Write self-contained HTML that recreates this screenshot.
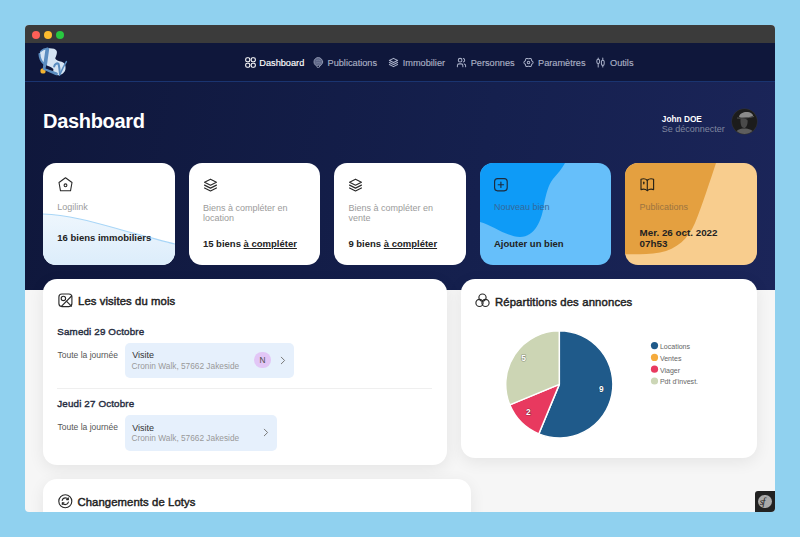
<!DOCTYPE html>
<html><head><meta charset="utf-8">
<style>
*{box-sizing:border-box;margin:0;padding:0}
html,body{width:800px;height:537px;overflow:hidden;background:#90d1ef;font-family:"Liberation Sans",sans-serif}
#win{position:absolute;left:25px;top:25px;width:750px;height:487px;border-radius:4px;overflow:hidden;background:#f6f6f6}
#tb{position:absolute;left:0;top:0;width:750px;height:18px;background:#3b3b3b}
.dot{position:absolute;top:5.5px;width:8px;height:8px;border-radius:50%}
#nav{position:absolute;left:0;top:18px;width:750px;height:39px;background:#0f173b;border-bottom:1px solid #1a3470}
#hero{position:absolute;left:0;top:57px;width:750px;height:207.5px;background:linear-gradient(100deg,#0f173b 0%,#15204e 60%,#1b2559 100%)}
.t{position:absolute;line-height:1;white-space:nowrap}
.ni{font-size:9.2px;color:#aab0c4;top:33.7px;-webkit-text-stroke:0.15px #aab0c4;letter-spacing:0px}
.ico{position:absolute;fill:none;stroke-linecap:round;stroke-linejoin:round}
.card{position:absolute;top:138px;width:131.6px;height:102px;border-radius:13px;background:#fff;overflow:hidden}
.lbl{font-size:9px;color:#9b9b9b;margin-top:0.6px}
.val{font-size:9.5px;font-weight:bold;color:#222}
.val u{text-decoration:underline;text-decoration-thickness:0.8px;text-underline-offset:1.2px}
.panel{position:absolute;background:#fff;border-radius:14px;box-shadow:0 4px 16px rgba(0,0,0,.075);overflow:hidden}
.ptitle{font-size:11.3px;font-weight:normal;color:#222;-webkit-text-stroke:0.45px #222}
.day{font-size:9.8px;font-weight:normal;color:#262c40;-webkit-text-stroke:0.4px #262c40;letter-spacing:0.15px}
.allday{font-size:8.5px;color:#555}
.vbox{position:absolute;background:#e6f0fc;border-radius:5px}
.vt{font-size:9px;color:#333}
.vs{font-size:8.3px;color:#999}
.av{position:absolute;width:16.25px;height:16.25px;border-radius:50%;background:#e2c6f6;color:#4a4a4a;font-size:8.3px;line-height:16.25px;text-align:center}
</style></head><body>
<div id="win">
  <div id="tb">
    <div class="dot" style="left:7px;background:#fe5f57"></div>
    <div class="dot" style="left:19px;background:#febc2e"></div>
    <div class="dot" style="left:31px;background:#28c840"></div>
  </div>
  <div id="nav"></div>
  <div id="hero"></div>

  <!-- logo -->
  <svg class="ico" style="left:11px;top:21px" width="34" height="32" viewBox="0 0 571 537">
    <path d="M55,150 C60,90 120,45 200,40 C270,36 330,45 348,85 C360,120 340,170 322,205 C330,240 380,255 430,265 C480,280 505,320 495,390 C485,440 440,485 380,492 C330,495 300,470 275,425 L170,345 C120,300 70,240 55,150Z" fill="#d5e4f3"/>
    <path d="M58,135 C62,205 85,255 125,290" stroke="#5b8dc0" stroke-width="34" fill="none"/>
    <path d="M75,95 C110,55 160,42 205,42" stroke="#5b8dc0" stroke-width="22" fill="none"/>
    <circle cx="118" cy="418" r="44" fill="#f2b230"/>
    <path d="M190,55 C175,160 160,270 145,375" stroke="#5b8dc0" stroke-width="62" fill="none"/>
    <path d="M140,380 C200,410 270,440 345,468" stroke="#5b8dc0" stroke-width="46" fill="none"/>
    <path d="M172,322 C215,335 262,352 292,385 L290,425 C250,405 205,388 160,378Z" fill="#0f173b"/>
    <path d="M305,345 C315,300 350,280 378,300 C392,350 398,420 402,470" stroke="#5b8dc0" stroke-width="34" fill="none"/>
    <path d="M510,262 C470,330 430,410 395,490" stroke="#5b8dc0" stroke-width="26" fill="none"/>
    <path d="M95,380 C140,395 190,415 220,430" stroke="#5b8dc0" stroke-width="0" fill="none"/>
  </svg>

  <!-- nav items -->
  <svg class="ico" style="left:219.5px;top:31.5px" width="11" height="11" viewBox="0 0 11 11" stroke="#fff" stroke-width="1.1">
    <rect x="0.7" y="0.7" width="4.1" height="4.1" rx="1.5"/><rect x="6.2" y="0.7" width="4.1" height="4.1" rx="1.5"/>
    <rect x="0.7" y="6.2" width="4.1" height="4.1" rx="1.5"/><rect x="6.2" y="6.2" width="4.1" height="4.1" rx="1.5"/>
  </svg>
  <div class="t ni" style="left:234.3px;color:#fff;-webkit-text-stroke:0.15px #fff">Dashboard</div>
  <svg class="ico" style="left:288px;top:31.5px" width="11" height="11" viewBox="0 0 11 11" stroke="#8d94ad" stroke-width="1">
    <circle cx="5.3" cy="4.9" r="4.3" fill="#5d6687"/><path d="M3.5,3.5 Q5.3,2.5 7.1,3.5 M3,6 Q5.3,5 7.6,6" stroke="#7f88a5" stroke-width="0.7"/><circle cx="5.3" cy="9.4" r="1.3" fill="#0f173b"/>
  </svg>
  <div class="t ni" style="left:302.5px">Publications</div>
  <svg class="ico" style="left:363px;top:31.5px" width="11" height="11" viewBox="0 0 24 24" stroke="#a9b0c8" stroke-width="2.2">
    <path d="M12 3l-9 4.5l9 4.5l9 -4.5z"/><path d="M3 12l9 4.5l9 -4.5"/><path d="M3 16.5l9 4.5l9 -4.5"/>
  </svg>
  <div class="t ni" style="left:377.7px">Immobilier</div>
  <svg class="ico" style="left:430.5px;top:31.5px" width="11" height="11" viewBox="0 0 24 24" stroke="#a9b0c8" stroke-width="2.2">
    <circle cx="9" cy="7" r="4"/><path d="M3 21v-2a4 4 0 0 1 4 -4h4a4 4 0 0 1 4 4v2"/><path d="M16 3.13a4 4 0 0 1 0 7.75"/><path d="M21 21v-2a4 4 0 0 0 -3 -3.85"/>
  </svg>
  <div class="t ni" style="left:445.7px">Personnes</div>
  <svg class="ico" style="left:498px;top:31.5px" width="11" height="11" viewBox="0 0 24 24" stroke="#a9b0c8" stroke-width="2.2">
    <path d="M12.00,4.00 L12.71,3.90 L13.48,3.63 L14.33,3.31 L15.25,3.07 L16.17,3.06 L17.00,3.34 L17.66,3.92 L18.11,4.72 L18.36,5.64 L18.51,6.54 L18.66,7.33 L18.93,8.00 L19.37,8.56 L19.99,9.09 L20.69,9.67 L21.36,10.35 L21.83,11.14 L22.00,12.00 L21.83,12.86 L21.36,13.65 L20.69,14.33 L19.99,14.91 L19.37,15.44 L18.93,16.00 L18.66,16.67 L18.51,17.46 L18.36,18.36 L18.11,19.28 L17.66,20.08 L17.00,20.66 L16.17,20.94 L15.25,20.93 L14.33,20.69 L13.48,20.37 L12.71,20.10 L12.00,20.00 L11.29,20.10 L10.52,20.37 L9.67,20.69 L8.75,20.93 L7.83,20.94 L7.00,20.66 L6.34,20.08 L5.89,19.28 L5.64,18.36 L5.49,17.46 L5.34,16.67 L5.07,16.00 L4.63,15.44 L4.01,14.91 L3.31,14.33 L2.64,13.65 L2.17,12.86 L2.00,12.00 L2.17,11.14 L2.64,10.35 L3.31,9.67 L4.01,9.09 L4.63,8.56 L5.07,8.00 L5.34,7.33 L5.49,6.54 L5.64,5.64 L5.89,4.72 L6.34,3.92 L7.00,3.34 L7.83,3.06 L8.75,3.07 L9.67,3.31 L10.52,3.63 L11.29,3.90 L12.00,4.00Z"/><circle cx="12" cy="12" r="2.8"/>
  </svg>
  <div class="t ni" style="left:513px">Paramètres</div>
  <svg class="ico" style="left:570px;top:31.5px" width="11" height="11" viewBox="0 0 24 24" stroke="#a9b0c8" stroke-width="2.2">
    <path d="M7 2v3"/><path d="M7 14v8"/><rect x="4" y="5" width="6" height="9" rx="3"/>
    <path d="M17 2v5"/><path d="M17 18v4"/><rect x="14" y="7" width="6" height="11" rx="3"/>
  </svg>
  <div class="t ni" style="left:585px">Outils</div>

  <!-- hero -->
  <div class="t" style="left:18px;top:86.3px;font-size:20px;font-weight:bold;color:#fff;letter-spacing:-0.3px">Dashboard</div>
  <div class="t" style="left:636.8px;top:90px;font-size:8.3px;font-weight:bold;color:#fff">John DOE</div>
  <div class="t" style="left:636.8px;top:99.8px;font-size:9px;color:#80879f">Se déconnecter</div>
  <div style="position:absolute;left:707px;top:84px;width:25px;height:25px;border-radius:50%;background:#1c1c1c;overflow:hidden;box-shadow:0 0 0 0.5px #333">
    <svg width="25" height="25" viewBox="0 0 25 25" style="position:absolute;left:0;top:0">
      <path d="M7,7.5 C8,4 12,2.5 16,3 C19,3.5 21,5 21,7 C19,8 15,8.5 11,8.8 C9,9 7.5,8.5 7,7.5Z" fill="#8a8a8a"/>
      <path d="M5,9 C9,9.5 16,9 22,7.5" stroke="#555" stroke-width="1" fill="none"/>
      <path d="M8.5,10 C11,9.5 14.5,9.8 15.5,11 C16,13 15.5,17 13,19 C11,19.5 9.5,18 9,16 C8.5,14 8.3,12 8.5,10Z" fill="#4a4a4a"/>
      <path d="M3,25 C4,21 8,19.5 12,19.5 C17,19.5 21,21 23,25Z" fill="#5e5e5e"/>
    </svg>
  </div>

  <!-- cards -->
  <div class="card" style="left:18px">
    <svg style="position:absolute;left:0;top:0" width="132" height="102" viewBox="0 0 132 102">
      <defs><linearGradient id="g1" x1="0" y1="0" x2="0" y2="1"><stop offset="0" stop-color="#eef6fd"/><stop offset="1" stop-color="#dcedfb"/></linearGradient></defs>
      <path d="M0,51 C30,52 60,62 90,70 C110,75 122,79 132,81 L132,102 L0,102Z" fill="url(#g1)"/>
      <path d="M0,51 C30,52 60,62 90,70 C110,75 122,79 132,81" fill="none" stroke="#a9d6f7" stroke-width="1.2"/>
    </svg>
    <svg class="ico" style="left:14.5px;top:13.5px" width="15" height="15" viewBox="0 0 15 15" stroke="#2a2a2a" stroke-width="1.1">
      <path d="M7.5,0.7 L14,5.5 L12.5,13.8 L2.5,13.8 L1,5.5Z"/><circle cx="7.5" cy="8.3" r="1.4"/>
    </svg>
    <div class="t lbl" style="left:14.3px;top:39.4px">Logilink</div>
    <div class="t val" style="left:14.3px;top:70.3px">16 biens immobiliers</div>
  </div>
  <div class="card" style="left:163.6px">
    <svg class="ico" style="left:14.2px;top:13.8px" width="15" height="15" viewBox="0 0 24 24" stroke="#2a2a2a" stroke-width="1.8">
      <path d="M12 3.5l-9.5 4.8l9.5 4.8l9.5 -4.8z"/><path d="M2.5 13l9.5 4.8l9.5 -4.8"/><path d="M2.5 17.5l9.5 4.8l9.5 -4.8"/>
    </svg>
    <div class="t lbl" style="left:14.3px;top:39px;line-height:10.1px;white-space:normal;width:100px">Biens à compléter en location</div>
    <div class="t val" style="left:14.3px;top:76px">15 biens <u>à compléter</u></div>
  </div>
  <div class="card" style="left:309.1px">
    <svg class="ico" style="left:14.2px;top:13.8px" width="15" height="15" viewBox="0 0 24 24" stroke="#2a2a2a" stroke-width="1.8">
      <path d="M12 3.5l-9.5 4.8l9.5 4.8l9.5 -4.8z"/><path d="M2.5 13l9.5 4.8l9.5 -4.8"/><path d="M2.5 17.5l9.5 4.8l9.5 -4.8"/>
    </svg>
    <div class="t lbl" style="left:14.3px;top:39px;line-height:10.1px;white-space:normal;width:100px">Biens à compléter en vente</div>
    <div class="t val" style="left:14.3px;top:76px">9 biens <u>à compléter</u></div>
  </div>
  <div class="card" style="left:454.7px;background:#66bffa">
    <svg style="position:absolute;left:0;top:0" width="132" height="102" viewBox="0 0 132 102">
      <path d="M0,0 L85,0 C82,6 77,11 73,16 C68,22 66,32 64,41 C62,57 55,74 40,74 C27,74 12,62 0,59Z" fill="#0e9bf7"/>
    </svg>
    <svg class="ico" style="left:14.5px;top:14.9px" width="14" height="14" viewBox="0 0 14 14" stroke="#1d2b3d" stroke-width="1.15">
      <rect x="0.6" y="0.6" width="12.6" height="12.2" rx="3"/><path d="M6.9 4v5.4M4.2 6.7h5.4"/>
    </svg>
    <div class="t lbl" style="left:14.3px;top:39.4px;color:#33699a">Nouveau bien</div>
    <div class="t val" style="left:14.3px;top:76px">Ajouter un bien</div>
  </div>
  <div class="card" style="left:600.3px;background:#f8cd8e">
    <svg style="position:absolute;left:0;top:0" width="132" height="102" viewBox="0 0 132 102">
      <path d="M0,0 H91 C85,18 78,40 70,60 C63,76 52,86 35,89.5 C22,91.5 10,91.5 0,91.2 Z" fill="#e4a040"/>
    </svg>
    <svg class="ico" style="left:14.5px;top:14.9px" width="15" height="14" viewBox="0 0 15 14" stroke="#2a2418" stroke-width="1.15">
      <path d="M7.3,2.2 C5.5,0.6 3,0.6 1,1.2 L1,11.6 C3,11 5.5,11 7.3,12.6 C9.1,11 11.6,11 13.6,11.6 L13.6,1.2 C11.6,0.6 9.1,0.6 7.3,2.2Z"/><path d="M7.3,2.2 V12.6"/><path d="M3.8,4.2 v1.5" stroke-width="1.4"/>
    </svg>
    <div class="t lbl" style="left:14.3px;top:39.4px;color:#9a7440">Publications</div>
    <div class="t val" style="left:14.3px;top:64.5px;font-size:9.8px">Mer. 26 oct. 2022</div>
    <div class="t val" style="left:14.3px;top:75.5px;font-size:9.8px">07h53</div>
  </div>

  <!-- visits panel -->
  <div class="panel" style="left:18px;top:253.6px;width:404px;height:186.4px">
    <svg class="ico" style="left:15px;top:14.4px" width="15" height="15" viewBox="0 0 15 15" stroke="#2a2a2a" stroke-width="1.15">
      <rect x="0.9" y="1" width="13" height="12.6" rx="3"/><circle cx="5.4" cy="5.4" r="2.2"/><path d="M3.4,13.4 L13.6,3"/><path d="M8.6,8.3 L13.4,13.2"/>
    </svg>
    <div class="t ptitle" style="left:35px;top:17.9px;letter-spacing:0.1px">Les visites du mois</div>
    <div class="t day" style="left:14.3px;top:48.3px">Samedi 29 Octobre</div>
    <div class="t allday" style="left:14.5px;top:72px">Toute la journée</div>
    <div class="vbox" style="left:82px;top:64.5px;width:168.75px;height:35px">
      <div class="t vt" style="left:7.2px;top:8.2px">Visite</div>
      <div class="t vs" style="left:6.5px;top:18.9px">Cronin Walk, 57662 Jakeside</div>
      <div class="av" style="left:129.4px;top:8.8px">N</div>
      <svg class="ico" style="left:154.5px;top:13px" width="6" height="9" viewBox="0 0 6 9" stroke="#777" stroke-width="1"><path d="M1.3,1.2 L4.6,4.5 L1.3,7.8"/></svg>
    </div>
    <div style="position:absolute;left:14px;top:109px;width:375px;height:1px;background:#efefef"></div>
    <div class="t day" style="left:14.3px;top:120.3px">Jeudi 27 Octobre</div>
    <div class="t allday" style="left:14.5px;top:144.2px">Toute la journée</div>
    <div class="vbox" style="left:82px;top:136.7px;width:152.2px;height:35.7px">
      <div class="t vt" style="left:7.2px;top:8.4px">Visite</div>
      <div class="t vs" style="left:6.5px;top:18.9px">Cronin Walk, 57662 Jakeside</div>
      <svg class="ico" style="left:138px;top:12.4px" width="6" height="9" viewBox="0 0 6 9" stroke="#777" stroke-width="1"><path d="M1.3,1.2 L4.6,4.5 L1.3,7.8"/></svg>
    </div>
  </div>

  <!-- repartitions panel -->
  <div class="panel" style="left:436.3px;top:253.6px;width:295.7px;height:179.8px">
    <svg class="ico" style="left:13.5px;top:14.4px" width="15" height="15" viewBox="0 0 15 15" stroke="#2a2a2a" stroke-width="1.15">
      <circle cx="7.5" cy="4.6" r="3.6"/><circle cx="4.5" cy="9.9" r="3.6"/><circle cx="10.5" cy="9.9" r="3.6"/>
    </svg>
    <div class="t ptitle" style="left:33.6px;top:18.4px;letter-spacing:0.15px">Répartitions des annonces</div>
    <svg style="position:absolute;left:0;top:0" width="296" height="180" viewBox="0 0 296 180">
      <g stroke="#fff" stroke-width="1.5" stroke-linejoin="round">
        <path d="M98.3,105.4 L98.30,51.80 A53.6,53.6 0 1 1 77.79,154.92 Z" fill="#1f5a8a"/><path d="M98.3,105.4 L77.79,154.92 A53.6,53.6 0 0 1 48.78,125.91 Z" fill="#e8395f"/><path d="M98.3,105.4 L48.78,125.91 A53.6,53.6 0 0 1 98.30,51.80 Z" fill="#ccd5b4"/>
      </g>
      <g font-family="Liberation Sans" font-weight="bold" font-size="8.4" fill="#fff" text-anchor="middle" style="paint-order:stroke" stroke="rgba(0,0,0,0.35)" stroke-width="1.2">
        <text x="140.4" y="113.4">9</text>
        <text x="67.3" y="135.8">2</text>
        <text x="62.6" y="81.7">5</text>
      </g>
      <g>
        <circle cx="193.5" cy="66.6" r="3.6" fill="#1f5a8a"/>
        <circle cx="193.5" cy="78.4" r="3.6" fill="#f5ab3c"/>
        <circle cx="193.5" cy="90.2" r="3.6" fill="#e8395f"/>
        <circle cx="193.5" cy="102" r="3.6" fill="#ccd6b6"/>
      </g>
      <g font-family="Liberation Sans" font-size="7.05" fill="#666">
        <text x="198.9" y="69.9">Locations</text>
        <text x="198.9" y="81.7">Ventes</text>
        <text x="198.9" y="93.5">Viager</text>
        <text x="198.9" y="105.3">Pdt d'invest.</text>
      </g>
    </svg>
  </div>

  <!-- changements panel -->
  <div class="panel" style="left:18px;top:453.5px;width:428.4px;height:80px">
    <svg class="ico" style="left:14.8px;top:15.3px" width="15" height="15" viewBox="0 0 15 15" stroke="#2a2a2a" stroke-width="1.15">
      <circle cx="7.3" cy="7.2" r="6.5"/><path d="M4.2,6.4 C4.6,4.6 6,3.8 7.4,3.8 C8.6,3.8 9.6,4.4 10.1,5.4"/><path d="M10.3,3.9 V5.6 H8.6"/><path d="M10.4,8 C10,9.8 8.6,10.6 7.2,10.6 C6,10.6 5,10 4.5,9"/><path d="M4.3,10.5 V8.8 H6"/>
    </svg>
    <div class="t ptitle" style="left:34.4px;top:18.6px;letter-spacing:0.1px">Changements de Lotys</div>
  </div>
  <!-- symfony toolbar -->
  <div style="position:absolute;left:729.5px;top:466.2px;width:21px;height:21px;background:#222;border-radius:3px 0 0 0">
    <div style="position:absolute;left:3.8px;top:3.8px;width:13.4px;height:13.4px;border-radius:50%;background:#aaa"></div>
    <div class="t" style="left:5.2px;top:5.5px;font-family:'Liberation Serif',serif;font-style:italic;font-size:10px;color:#222;letter-spacing:-1px">sf</div>
  </div>
</div>
</body></html>
